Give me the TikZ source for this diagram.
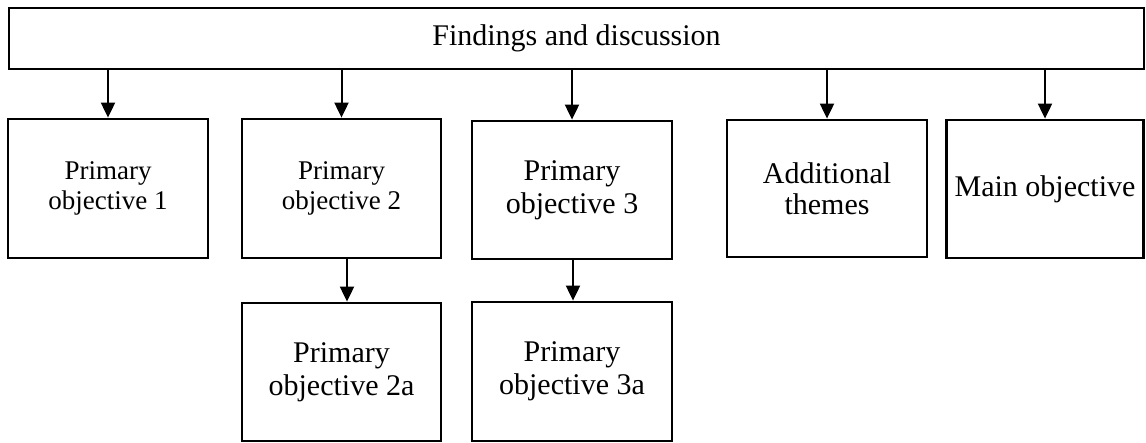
\documentclass[tikz,border=0pt]{standalone}
\usepackage{fontspec}
\setmainfont{Liberation Serif}
\usetikzlibrary{arrows.meta}
\begin{document}
\begin{tikzpicture}[x=1pt,y=-1pt,
  box/.style={draw=black,line width=2.8pt,fill=white,inner sep=0pt,align=center,
    font=\fontsize{30}{33}\selectfont},
  smallbox/.style={box,font=\fontsize{27}{30}\selectfont},
  link/.style={line width=2pt,-{Triangle[length=15pt,width=14pt]}}]
\useasboundingbox (0,0) rectangle (1146,443);
% heading box across the whole width
\node[box,minimum width=1135pt,minimum height=61pt] (top) at (576.5,38.5) {Findings and discussion};
% first row
\node[smallbox,minimum width=200pt,minimum height=139pt] (b1) at (108,188.5) {Primary\\objective 1};
\node[smallbox,minimum width=199pt,minimum height=139pt] (b2) at (341.5,188.5) {Primary\\objective 2};
\node[box,minimum width=200pt,minimum height=138pt] (b3) at (572,190) {Primary\\objective 3};
\node[box,minimum width=200pt,minimum height=137pt,font=\fontsize{30}{31}\selectfont] (b4) at (827,188.5) {Additional\\themes};
\node[box,minimum width=197.5pt,minimum height=138pt] (b5) at (1045,189) {Main objective};
% second row
\node[box,minimum width=199pt,minimum height=138pt] (b2a) at (341.5,372) {Primary\\objective 2a};
\node[box,minimum width=200pt,minimum height=139pt] (b3a) at (572,371.5) {Primary\\objective 3a};
% connectors
\foreach \n in {b1,b2,b3,b4,b5}
  \draw[link] (top.south -| \n.north) -- (\n.north);
\draw[link] ([xshift=5.5pt]b2.south) -- ([xshift=5.5pt]b2a.north);
\draw[link] ([xshift=1pt]b3.south) -- ([xshift=1pt]b3a.north);
\end{tikzpicture}
\end{document}
